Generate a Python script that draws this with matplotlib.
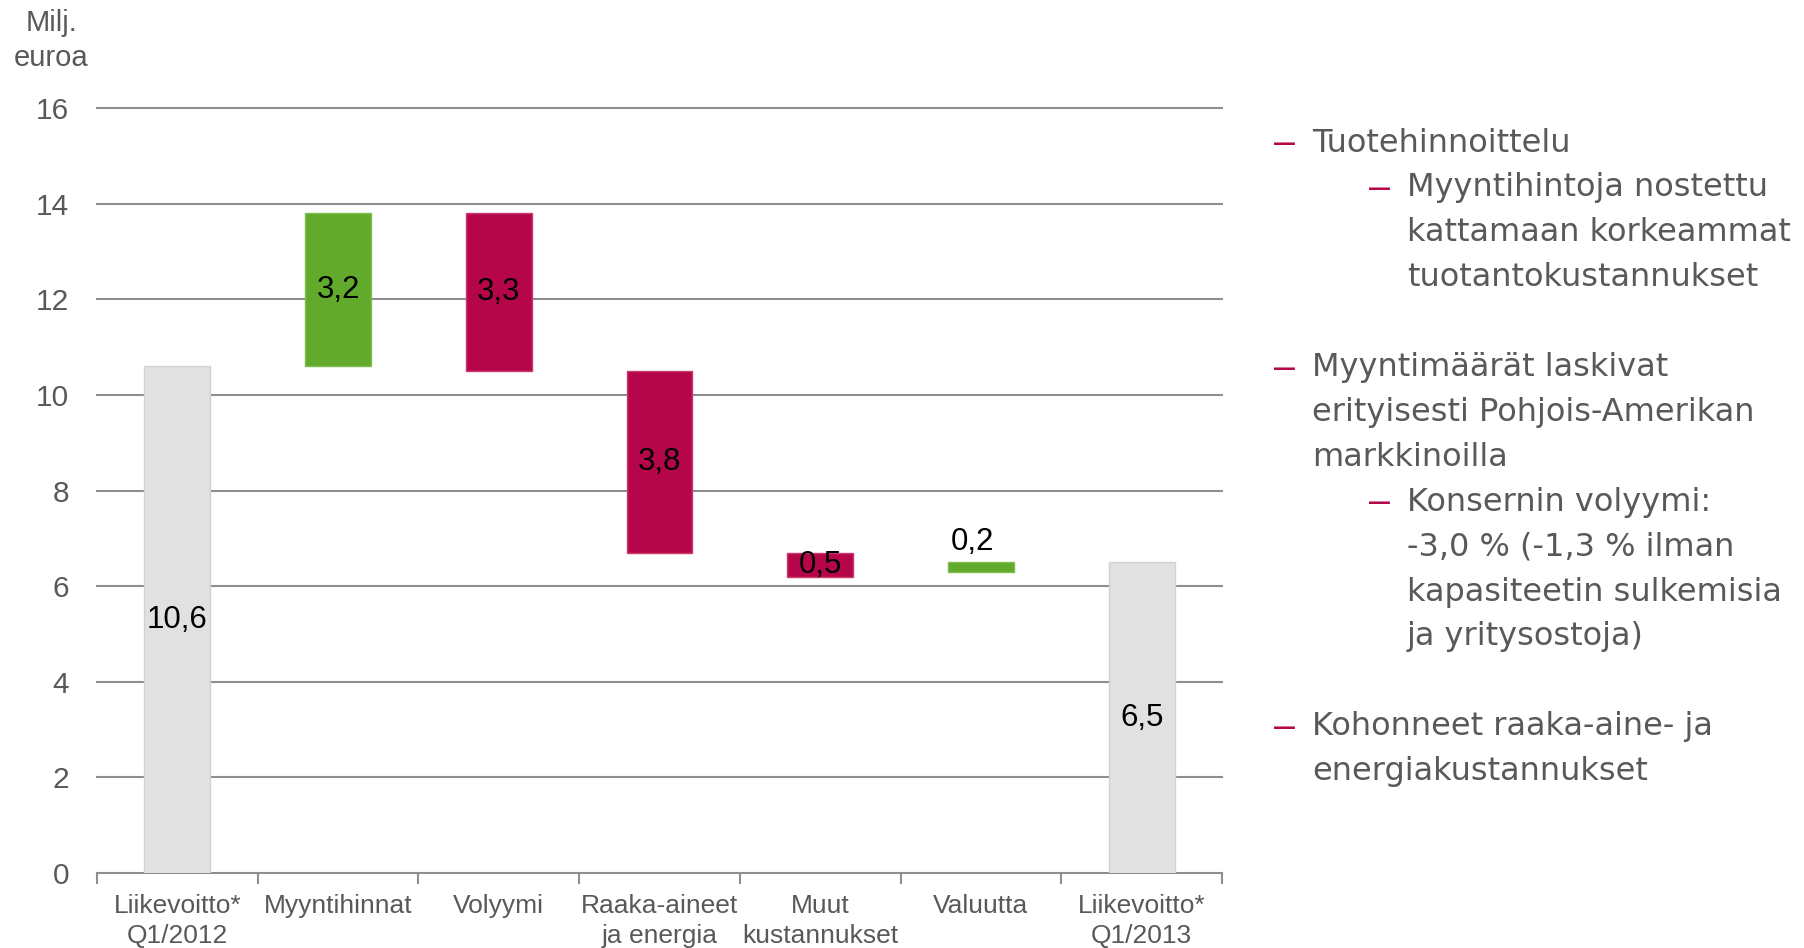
import matplotlib.pyplot as plt

plt.rcParams['font.family'] = ['Liberation Sans', 'DejaVu Sans']

# bar data (milj. euroa)
categories = ["Liikevoitto*\nQ1/2012", "Myyntihinnat", "Volyymi", "Raaka-aineet\nja energia",
              "Muut\nkustannukset", "Valuutta", "Liikevoitto*\nQ1/2013"]
bar_bottom = [0, 10.6, 10.5, 6.7, 6.2, 6.3, 0]
bar_height = [10.6, 3.2, 3.3, 3.8, 0.5, 0.2, 6.5]
bar_labels = ["10,6", "3,2", "3,3", "3,8", "0,5", "0,2", "6,5"]
bar_kind = ["total", "up", "down", "down", "down", "up", "total"]

notes = [
    (0, "Tuotehinnoittelu"),
    (1, "Myyntihintoja nostettu\nkattamaan korkeammat\ntuotantokustannukset"),
    (0, "Myyntimäärät laskivat\nerityisesti Pohjois-Amerikan\nmarkkinoilla"),
    (1, "Konsernin volyymi:\n-3,0 % (-1,3 % ilman\nkapasiteetin sulkemisia\nja yritysostoja)"),
    (0, "Kohonneet raaka-aine- ja\nenergiakustannukset"),
]

colors = {"total": "#E2E1E2", "up": "#62AA2C", "down": "#B5064A"}
edges = {"total": "#D2D2D2", "up": "#7DBE4F", "down": "#C93A6E"}
txt_grey = "#58595B"
grid_grey = "#8E8E8E"

fig = plt.figure(figsize=(18.04, 9.48), dpi=100)
ax = fig.add_axes([0.0538, 0.0791, 0.6236, 0.8069])

x = list(range(len(categories)))
for i in x:
    k = bar_kind[i]
    ax.bar(i, bar_height[i], bottom=bar_bottom[i], width=0.41,
           color=colors[k], edgecolor=edges[k], linewidth=1, zorder=3)
    if i == 5:
        ax.text(i - 0.05, bar_bottom[i] + bar_height[i] + 0.1, bar_labels[i],
                ha='center', va='bottom', fontsize=22.5, color='black', zorder=4)
    else:
        ax.text(i, bar_bottom[i] + bar_height[i] / 2, bar_labels[i],
                ha='center', va='center', fontsize=22.5, color='black', zorder=4)

ax.set_xlim(-0.5, len(categories) - 0.5)
ax.set_ylim(0, 16)
ax.set_yticks(range(0, 17, 2))
ax.set_yticklabels([str(v) for v in range(0, 17, 2)])
for v in range(2, 17, 2):
    ax.axhline(v, color=grid_grey, lw=1.5, zorder=1, clip_on=False)

ax.set_xticks(x)
ax.set_xticklabels(categories, fontsize=19, color=txt_grey, linespacing=1.3)
ax.set_xticks([i - 0.5 for i in range(len(categories) + 1)], minor=True)
ax.tick_params(axis='x', which='major', length=0, pad=15)
ax.tick_params(axis='x', which='minor', length=8, width=1.5, color=grid_grey, direction='out')
ax.tick_params(axis='y', length=0, pad=20, labelsize=21.5, labelcolor=txt_grey)

for s in ['top', 'right', 'left']:
    ax.spines[s].set_visible(False)
ax.spines['bottom'].set_color(grid_grey)
ax.spines['bottom'].set_linewidth(1.5)

fig.text(51 / 1804, 1 - 23 / 948, "Milj.", ha='center', va='center', fontsize=21, color=txt_grey)
fig.text(51 / 1804, 1 - 58 / 948, "euroa", ha='center', va='center', fontsize=21, color=txt_grey)

# text notes on the right
line_h = 44.9
y = 143
prev_level = None
for level, text in notes:
    if prev_level is not None and level == 0:
        y += line_h
    dash_x = 1274 if level == 0 else 1369
    text_x = 1312 if level == 0 else 1407
    fig.text(dash_x / 1804, 1 - (y + 1) / 948, "–", ha='left', va='center', fontsize=27,
             color="#B5064A")
    for line in text.split("\n"):
        fig.text(text_x / 1804, 1 - y / 948, line, ha='left', va='center', fontsize=23,
                 color=txt_grey, family='DejaVu Sans')
        y += line_h
    prev_level = level

fig.savefig("out.png", dpi=100)
